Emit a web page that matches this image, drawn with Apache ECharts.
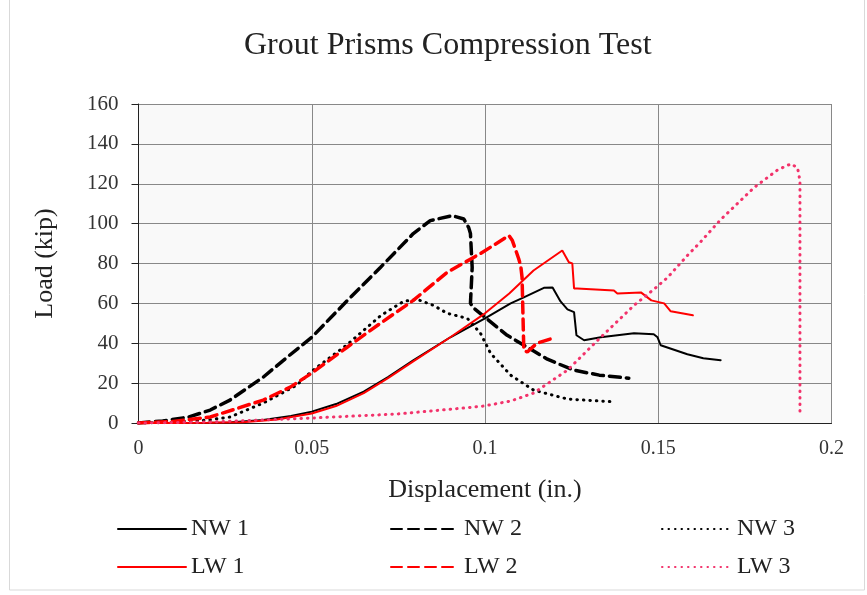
<!DOCTYPE html>
<html>
<head>
<meta charset="utf-8">
<script src="https://cdn.jsdelivr.net/npm/echarts@6/dist/echarts.min.js"></script>
<style>
  html, body { margin: 0; padding: 0; background: #fff; }
  #chart { width: 867px; height: 595px; }
</style>
</head>
<body>
<div id="chart"></div>
<script>
// displacement (in.) / load (kip) pairs
const nw1 = [[0,0],[0.01,0],[0.02,0.1],[0.026,0.3],[0.036,1.5],[0.044,3.5],[0.05,5.7],[0.057,9.5],[0.065,15.7],[0.072,23],[0.0794,31.5],[0.09,43],[0.1,52.5],[0.1074,60],[0.1112,63],[0.117,67.8],[0.1195,68],[0.1218,61],[0.1238,57],[0.1257,55.6],[0.1264,44],[0.1286,41.5],[0.1334,43],[0.143,45],[0.1487,44.5],[0.1498,43],[0.1507,39],[0.1584,34.5],[0.163,32.5],[0.168,31.5]];
const nw2 = [[0,0],[0.007,1],[0.0145,3],[0.0207,6.5],[0.0264,11.5],[0.036,23],[0.0429,33],[0.05,43],[0.0603,61.5],[0.0698,78],[0.0793,95],[0.0842,101.5],[0.0905,104],[0.0939,102.3],[0.0953,98],[0.0958,95],[0.0963,78],[0.0958,60],[0.0968,57.5],[0.1,53],[0.1064,44],[0.1122,38],[0.118,32],[0.1256,26.5],[0.133,24],[0.1415,22.5]];
const nw3 = [[0,0],[0.01,0.3],[0.02,1.5],[0.0264,3],[0.036,10],[0.0457,19],[0.05,26],[0.06,39],[0.07,54],[0.0765,61],[0.0804,62],[0.0851,59],[0.0891,55],[0.0949,52.5],[0.0987,45],[0.1016,35],[0.1074,24],[0.114,16.5],[0.1238,12],[0.1363,10.7]];
const lw1 = [[0,0],[0.01,0],[0.02,0.1],[0.03,0.4],[0.04,1.8],[0.05,4.8],[0.057,8.5],[0.065,15],[0.072,22.5],[0.0794,31],[0.09,43],[0.1,55],[0.107,65],[0.114,76.5],[0.1223,86.5],[0.1242,80.6],[0.1252,80],[0.1257,67.5],[0.1266,67.5],[0.1372,66.5],[0.1382,65],[0.145,65.5],[0.148,61.5],[0.1517,60],[0.1536,56],[0.16,54]];
const lw2 = [[0,0],[0.01,0.8],[0.0207,3],[0.036,11.5],[0.0438,18],[0.05,25],[0.0602,38],[0.0698,50],[0.0793,61.5],[0.0891,75.6],[0.0987,85],[0.1069,94],[0.1079,91.5],[0.1097,82.5],[0.1103,79],[0.1107,73],[0.1112,36.5],[0.1122,35.6],[0.115,40],[0.1204,43]];
const lw3 = [[0,0],[0.02,0.5],[0.05,2.5],[0.0746,4.5],[0.0938,7.5],[0.0996,8.5],[0.1074,11],[0.114,15],[0.1238,26.5],[0.1334,43],[0.143,59],[0.1487,67],[0.1527,73],[0.1584,84],[0.1623,91],[0.168,102],[0.1776,118],[0.1845,127],[0.1883,130],[0.1902,128],[0.1909,121.5],[0.1909,5]];

const xTicks = ['0', '0.05', '0.1', '0.15', '0.2'];
const yTicks = ['0', '20', '40', '60', '80', '100', '120', '140', '160'];
const names = ['NW 1', 'NW 2', 'NW 3', 'LW 1', 'LW 2', 'LW 3'];

const serif = '"Liberation Serif", "Times New Roman", serif';
const chart = echarts.init(document.getElementById('chart'));

function line(name, data, color, width, type) {
  return {
    name: name,
    type: 'line',
    data: data,
    showSymbol: false,
    symbol: 'none',
    animation: false,
    lineStyle: { color: color, width: width, type: type, cap: 'round' },
    itemStyle: { color: color }
  };
}

// one legend per item so they sit on the 3x2 layout
const legendPos = [[112, 512], [385, 512], [656, 512], [112, 550], [385, 550], [656, 550]];
const legends = names.map((n, i) => ({
  data: [n],
  left: legendPos[i][0],
  top: legendPos[i][1],
  itemWidth: i % 3 == 2 ? 70 : 68,
  itemHeight: 26,
  itemGap: 0,
  itemStyle: { opacity: 0 },
  textStyle: { fontFamily: serif, fontSize: 24, color: '#222' }
}));

chart.setOption({
  backgroundColor: '#fff',
  title: {
    text: 'Grout Prisms Compression Test',
    left: 239,
    top: 25,
    textStyle: { fontFamily: serif, fontSize: 32, fontWeight: 'normal', color: '#222' }
  },
  legend: legends,
  graphic: [{
    type: 'rect',
    shape: { x: 9.5, y: -2, width: 855, height: 592 },
    style: { fill: 'none', stroke: '#d9d9d9', lineWidth: 1 },
    silent: true
  }],
  grid: { left: 138.5, right: 35.5, top: 104, bottom: 172, show: true, backgroundColor: '#f9f9f9', borderWidth: 0 },
  xAxis: {
    type: 'value',
    min: 0, max: 0.2, interval: 0.05,
    name: 'Displacement (in.)',
    nameLocation: 'middle',
    nameGap: 54,
    nameTextStyle: { fontFamily: serif, fontSize: 26, color: '#222' },
    axisLine: { show: true, lineStyle: { color: '#222', width: 1 } },
    axisTick: { show: false },
    axisLabel: { fontFamily: serif, fontSize: 20, color: '#333', margin: 16,
      formatter: v => xTicks[Math.round(v / 0.05)] },
    splitLine: { show: true, lineStyle: { color: '#888', width: 1 } }
  },
  yAxis: {
    type: 'value',
    min: 0, max: 160, interval: 20,
    name: 'Load (kip)',
    nameLocation: 'middle',
    nameGap: 80,
    nameTextStyle: { fontFamily: serif, fontSize: 26, color: '#222' },
    axisLine: { show: true, lineStyle: { color: '#222', width: 1 } },
    axisTick: { show: true, inside: false, length: 7, lineStyle: { color: '#222' } },
    axisLabel: { fontFamily: serif, fontSize: 21, color: '#333', margin: 20,
      formatter: v => yTicks[Math.round(v / 20)] },
    splitLine: { show: true, lineStyle: { color: '#888', width: 1 } }
  },
  series: [
    line('NW 1', nw1, '#000000', 2, 'solid'),
    line('NW 2', nw2, '#000000', 3.5, [11, 6]),
    line('NW 3', nw3, '#000000', 3, [0.5, 6]),
    line('LW 1', lw1, '#ff0000', 2, 'solid'),
    line('LW 2', lw2, '#ff0000', 3.5, [11, 6]),
    line('LW 3', lw3, '#f2336b', 3, [0.5, 6])
  ]
});
</script>
</body>
</html>
